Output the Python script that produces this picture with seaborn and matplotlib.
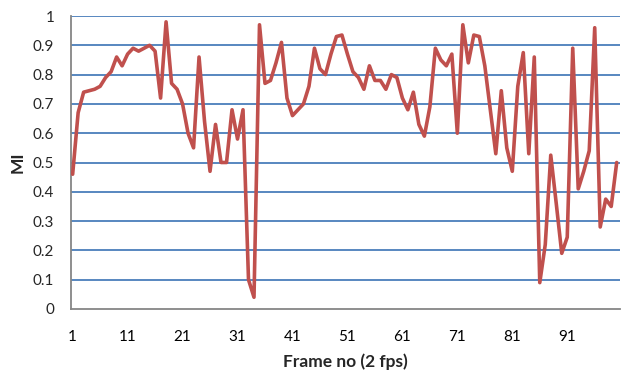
import matplotlib
matplotlib.use("Agg")
import matplotlib.pyplot as plt
import seaborn as sns
import pandas as pd
import numpy as np

frames = list(range(1, 101))
mi = [0.46, 0.67, 0.74, 0.745, 0.75, 0.76, 0.79, 0.81, 0.86, 0.83,
      0.87, 0.89, 0.88, 0.89, 0.90, 0.88, 0.72, 0.98, 0.77, 0.75,
      0.70, 0.60, 0.55, 0.86, 0.64, 0.47, 0.63, 0.50, 0.50, 0.68,
      0.58, 0.68, 0.10, 0.04, 0.97, 0.77, 0.78, 0.84, 0.91, 0.72,
      0.66, 0.68, 0.70, 0.76, 0.89, 0.82, 0.80, 0.87, 0.93, 0.935,
      0.87, 0.81, 0.79, 0.75, 0.83, 0.78, 0.78, 0.75, 0.80, 0.79,
      0.72, 0.68, 0.74, 0.63, 0.59, 0.69, 0.89, 0.85, 0.83, 0.87,
      0.60, 0.97, 0.84, 0.935, 0.93, 0.83, 0.68, 0.53, 0.745, 0.55,
      0.47, 0.76, 0.875, 0.53, 0.86, 0.09, 0.22, 0.525, 0.36, 0.19,
      0.245, 0.89, 0.41, 0.47, 0.54, 0.96, 0.28, 0.375, 0.35, 0.50]
xtick_labels = [1, 11, 21, 31, 41, 51, 61, 71, 81, 91]
ytick_values = [0, 0.1, 0.2, 0.3, 0.4, 0.5, 0.6, 0.7, 0.8, 0.9, 1]

df = pd.DataFrame({"frame": frames, "MI": mi})

sns.set_style("white")
plt.rcParams["font.family"] = ["Lato", "DejaVu Sans"]

fig = plt.figure(figsize=(6.21, 3.71), dpi=100)
ax = fig.add_axes([71/621, (371-309)/371, (620-71)/621, (309-16)/371])

for v in ytick_values[1:]:
    ax.axhline(v, color="#4a7ebb", lw=1.3, zorder=1)

sns.lineplot(data=df, x="frame", y="MI", ax=ax, color="#c0504d", lw=2.6, zorder=3)

ax.set_xlim(0.7, 100.6)
ax.set_ylim(0, 1)
ax.set_xticks(xtick_labels)
ax.set_xticklabels([str(t) for t in xtick_labels], fontsize=11)
ax.set_yticks(ytick_values)
ax.set_yticklabels(["0"] + [f"{v:g}" for v in ytick_values[1:]], fontsize=11)
ax.tick_params(axis="x", length=0, pad=15, colors="black")
ax.tick_params(axis="y", length=5, width=1, color="#868686", pad=7)

for s in ["top", "right"]:
    ax.spines[s].set_visible(False)
for s in ["left", "bottom"]:
    ax.spines[s].set_color("#868686")
    ax.spines[s].set_linewidth(1.3)

ax.set_xlabel("Frame no (2 fps)", fontsize=12.5, fontweight="bold", labelpad=7)
ax.set_ylabel("MI", fontsize=12.5, fontweight="bold", labelpad=5)

fig.savefig("out.png", dpi=100)
